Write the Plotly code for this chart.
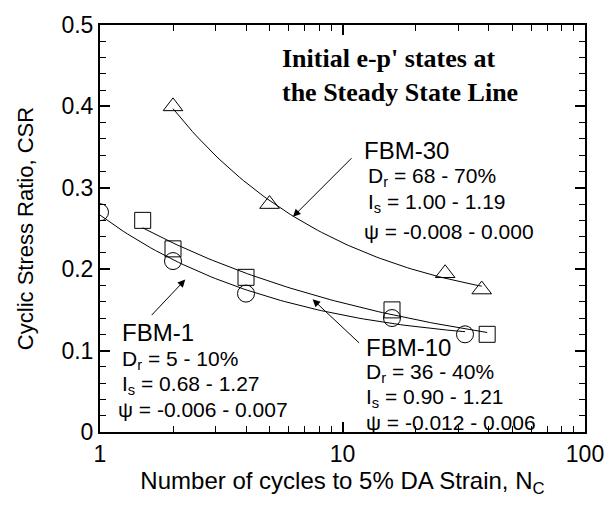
import numpy as np
import plotly.graph_objects as go

# Cycles to 5% double-amplitude strain and the cyclic stress ratio for each test series
fbm1_n = [1.0, 2.0, 4.0, 16.0, 32.0]
fbm1_csr = [0.27, 0.21, 0.17, 0.14, 0.12]

fbm10_n = [1.5, 2.0, 4.0, 16.0, 39.5]
fbm10_csr = [0.26, 0.225, 0.19, 0.15, 0.12]

fbm30_n = [2.0, 5.0, 26.5, 37.5]
fbm30_csr = [0.40, 0.28, 0.195, 0.175]

x_ticks = [1, 10, 100]
y_ticks = [0, 0.1, 0.2, 0.3, 0.4, 0.5]

FONT = "Liberation Sans, Arial, Helvetica, sans-serif"


def trend(n, csr, num=80):
    """Smooth least-squares trend (quadratic in log-log space) over the tested range."""
    coef = np.polyfit(np.log10(n), np.log10(csr), 2)
    xs = np.geomspace(min(n), max(n), num)
    return xs, 10 ** np.polyval(coef, np.log10(xs))


fig = go.Figure()

series = [
    (fbm1_n, fbm1_csr, "circle-open", 17, "FBM-1"),
    (fbm10_n, fbm10_csr, "square-open", 16, "FBM-10"),
    (fbm30_n, fbm30_csr, "triangle-up-open", 17, "FBM-30"),
]

for n, csr, symbol, size, name in series:
    xs, ys = trend(n, csr)
    fig.add_trace(go.Scatter(x=xs, y=ys, mode="lines",
                             line=dict(color="black", width=1),
                             showlegend=False, hoverinfo="skip"))
    fig.add_trace(go.Scatter(x=n, y=csr, mode="markers", name=name,
                             marker=dict(symbol=symbol, size=size, color="black",
                                         line=dict(color="black", width=1)),
                             showlegend=False))

W, H = 616, 506
L, R, T, B = 100, 21, 18, 74
pw, ph = W - L - R, H - T - B


def to_paper(px, py):
    return (px - L) / pw, 1 - (py - T) / ph


# Heading in the upper right
hx, hy = to_paper(285, 69)
fig.add_annotation(x=hx, y=hy, xref="paper", yref="paper",
                   text="<b>Initial e-p' states at<br>the Steady State Line</b>",
                   showarrow=False, xanchor="left", yanchor="middle", align="left",
                   borderpad=0,
                   font=dict(family="Liberation Serif, Times New Roman, serif", size=26,
                             color="black"))

# Series labels with their state parameters: (x of name, y of name, name, lines)
blocks = [
    (368, 146, "FBM-30",
     [(373, 173, "D<sub>r</sub> = 68 - 70%"),
      (373, 199, "I<sub>s</sub> = 1.00 - 1.19"),
      (368, 228, "ψ = -0.008 - 0.000")]),
    (121, 331, "FBM-1",
     [(121, 359, "D<sub>r</sub> = 5 - 10%"),
      (121, 384, "I<sub>s</sub> = 0.68 - 1.27"),
      (117, 409, "ψ = -0.006 - 0.007")]),
    (370, 346, "FBM-10",
     [(370, 372, "D<sub>r</sub> = 36 - 40%"),
      (370, 397, "I<sub>s</sub> = 0.90 - 1.21"),
      (370, 422, "ψ = -0.012 - 0.006")]),
]

for px, py, head, lines in blocks:
    x0, y0 = to_paper(px, py)
    fig.add_annotation(x=x0, y=y0, xref="paper", yref="paper", text=head,
                       showarrow=False, xanchor="left", yanchor="middle", borderpad=0,
                       font=dict(family=FONT, size=24, color="black"))
    for lx, ly, line in lines:
        xx, yy = to_paper(lx, ly)
        fig.add_annotation(x=xx, y=yy, xref="paper", yref="paper", text=line,
                           showarrow=False, xanchor="left", yanchor="middle", borderpad=0,
                           font=dict(family=FONT, size=21, color="black"))

# Leader arrows from each label to its curve
arrows = [((357, 153), (297, 213)),
          ((152, 314), (187, 277)),
          ((365, 342), (317, 297))]
for (sx, sy), (ex, ey) in arrows:
    ax_, ay_ = to_paper(ex, ey)
    fig.add_annotation(x=ax_, y=ay_, ax=sx - ex, ay=sy - ey, xref="paper", yref="paper",
                       axref="pixel", ayref="pixel", text="", showarrow=True,
                       arrowhead=2, arrowsize=1.5, arrowwidth=1, arrowcolor="black")

axis_common = dict(showgrid=False, zeroline=False, showline=True, linecolor="black",
                   linewidth=2, mirror="ticks", ticks="inside", tickcolor="black",
                   tickwidth=1.5, ticklen=10,
                   tickfont=dict(family=FONT, size=23, color="black"))

fig.update_xaxes(type="log", range=[0, 2], tickvals=x_ticks,
                 ticktext=[str(v) for v in x_ticks],
                 minor=dict(ticks="inside", ticklen=6, tickcolor="black", tickwidth=1.2,
                            dtick="D1", showgrid=False),
                 title=dict(text="Number of cycles to 5% DA Strain, N<sub>C</sub>",
                            font=dict(family=FONT, size=24, color="black"), standoff=3),
                 **axis_common)
fig.update_yaxes(range=[0, 0.5], tickvals=y_ticks,
                 ticktext=["0", "0.1", "0.2", "0.3", "0.4", "0.5"],
                 minor=dict(ticks="inside", ticklen=6, tickcolor="black", tickwidth=1.2,
                            dtick=0.02, showgrid=False),
                 title=dict(text="Cyclic Stress Ratio, CSR",
                            font=dict(family=FONT, size=22, color="black"), standoff=22),
                 **axis_common)

fig.update_layout(width=W, height=H, margin=dict(l=L, r=R, t=T, b=B),
                  plot_bgcolor="white", paper_bgcolor="white", showlegend=False)

fig.write_html("out.html")
